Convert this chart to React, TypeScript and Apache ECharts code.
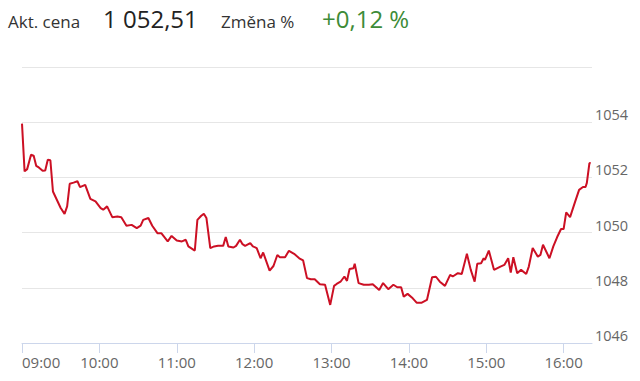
import React, { useEffect, useRef } from "react";
import * as echarts from "echarts";

const times: string[] = [
  "09:00","09:02","09:04","09:07","09:09","09:11","09:13","09:16","09:18","09:20",
  "09:22","09:24","09:27","09:30","09:33","09:35","09:37","09:40","09:43","09:45",
  "09:49","09:53","09:57","10:01","10:03","10:06","10:10","10:14","10:17","10:21",
  "10:25","10:29","10:32","10:34","10:38","10:41","10:45","10:48","10:53","10:56",
  "11:00","11:04","11:07","11:09","11:14","11:16","11:19","11:21","11:23","11:26",
  "11:29","11:32","11:36","11:38","11:40","11:44","11:46","11:49","11:51","11:53",
  "11:57","11:59","12:02","12:05","12:07","12:12","12:15","12:18","12:20","12:24",
  "12:27","12:31","12:35","12:38","12:41","12:44","12:47","12:51","12:55","12:59",
  "13:02","13:04","13:07","13:10","13:12","13:14","13:17","13:18","13:21","13:25",
  "13:29","13:32","13:37","13:40","13:44","13:48","13:51","13:54","13:56","13:59",
  "14:03","14:06","14:10","14:14","14:18","14:21","14:24","14:28","14:32","14:34",
  "14:38","14:41","14:45","14:48","14:51","14:53","14:56","14:58","14:59","15:02",
  "15:06","15:11","15:14","15:17","15:19","15:21","15:24","15:27","15:31","15:33",
  "15:36","15:40","15:42","15:44","15:49","15:52","15:55","15:58","16:00","16:02",
  "16:05","16:09","16:12","16:15","16:17","16:18","16:20","16:21"
];

const prices: number[] = [
  1053.95,1052.22,1052.30,1052.82,1052.79,1052.42,1052.36,1052.24,1052.25,1052.64,
  1052.62,1051.49,1051.19,1050.89,1050.68,1050.95,1051.77,1051.81,1051.86,1051.65,
  1051.73,1051.22,1051.13,1050.89,1050.83,1050.95,1050.56,1050.58,1050.56,1050.25,
  1050.28,1050.16,1050.25,1050.46,1050.53,1050.25,1049.98,1049.98,1049.68,1049.88,
  1049.71,1049.68,1049.74,1049.50,1049.35,1050.46,1050.61,1050.68,1050.53,1049.44,
  1049.50,1049.52,1049.52,1049.84,1049.50,1049.46,1049.52,1049.74,1049.58,1049.52,
  1049.62,1049.50,1049.44,1049.07,1049.28,1048.62,1048.79,1049.19,1049.11,1049.11,
  1049.34,1049.23,1049.07,1048.99,1048.35,1048.31,1048.31,1048.13,1048.11,1047.38,
  1048.07,1048.14,1048.22,1048.41,1048.25,1048.68,1048.71,1048.87,1048.17,1048.11,
  1048.11,1048.13,1047.92,1048.17,1047.95,1048.11,1048.02,1048.02,1047.68,1047.78,
  1047.62,1047.46,1047.46,1047.56,1048.38,1048.40,1048.22,1048.07,1048.47,1048.41,
  1048.53,1048.50,1049.23,1048.65,1048.22,1048.87,1048.89,1049.07,1049.01,1049.35,
  1048.65,1048.77,1048.83,1049.07,1048.55,1049.11,1048.53,1048.65,1048.50,1048.77,
  1049.44,1049.13,1049.19,1049.56,1049.07,1049.50,1049.84,1050.13,1050.13,1050.73,
  1050.56,1051.13,1051.55,1051.65,1051.65,1051.80,1052.52,1052.51
];

const hourTicks: string[] = ["09:00","10:00","11:00","12:00","13:00","14:00","15:00","16:00"];
const axisEnd = "16:22";
const yMin = 1046;
const yMax = 1056;
const yStep = 2;

const headerLabel1 = "Akt. cena";
const headerValue1 = "1 052,51";
const headerLabel2 = "Změna %";
const headerValue2 = "+0,12 %";

const toMin = (t: string) => {
  const [h, m] = t.split(":").map(Number);
  return (h - 9) * 60 + m;
};
const fmt = (m: number) => {
  const h = 9 + Math.floor(m / 60);
  const mm = Math.round(m % 60);
  return (h < 10 ? "0" : "") + h + ":" + (mm < 10 ? "0" : "") + mm;
};

export default function App() {
  const ref = useRef<HTMLDivElement>(null);
  useEffect(() => {
    if (!ref.current) return;
    const chart = echarts.init(ref.current, undefined, { renderer: "svg" });
    const font = "'Open Sans', 'Noto Sans', sans-serif";
    const tickVals = hourTicks.map(toMin);
    chart.setOption({
      animation: false,
      grid: { left: 22, right: 48, top: 67, bottom: 38 },
      xAxis: {
        type: "value",
        min: 0,
        max: toMin(axisEnd),
        interval: 60,
        axisLine: { show: true, lineStyle: { color: "#ccd6eb", width: 1 } },
        axisTick: { show: true, length: 10, lineStyle: { color: "#ccd6eb" }, customValues: tickVals },
        axisLabel: {
          customValues: tickVals,
          formatter: (v: number) => fmt(v),
          color: "#666666",
          fontSize: 15,
          fontFamily: font,
          margin: 11,
          alignMinLabel: "left",
        },
        splitLine: { show: false },
      },
      yAxis: {
        type: "value",
        position: "right",
        min: yMin,
        max: yMax,
        interval: yStep,
        axisLine: { show: false },
        axisTick: { show: false },
        splitLine: { show: true, lineStyle: { color: "#e6e6e6", width: 1 } },
        axisLabel: {
          showMaxLabel: false,
          formatter: (v: number) => String(v),
          color: "#666666",
          fontSize: 14.5,
          fontFamily: font,
          margin: 3,
          verticalAlign: "bottom",
        },
      },
      graphic: [
        { type: "text", style: { text: headerLabel1, x: 8, y: 21, verticalAlign: "middle", fill: "#333333", fontSize: 17, fontFamily: font } },
        { type: "text", style: { text: headerValue1, x: 103, y: 18.5, verticalAlign: "middle", fill: "#222222", fontSize: 24, fontFamily: font } },
        { type: "text", style: { text: headerLabel2, x: 221, y: 21, verticalAlign: "middle", fill: "#333333", fontSize: 17, fontFamily: font } },
        { type: "text", style: { text: headerValue2, x: 322, y: 18.5, verticalAlign: "middle", fill: "#3d8b37", fontSize: 24, fontFamily: font } },
      ],
      series: [
        {
          type: "line",
          data: times.map((t, i) => [toMin(t), prices[i]]),
          showSymbol: false,
          lineStyle: { color: "#cc1024", width: 2 },
          itemStyle: { color: "#cc1024" },
          silent: true,
        },
      ],
    });
    return () => chart.dispose();
  }, []);
  return <div ref={ref} style={{ position: "absolute", left: 0, top: 0, width: 640, height: 381 }} />;
}
